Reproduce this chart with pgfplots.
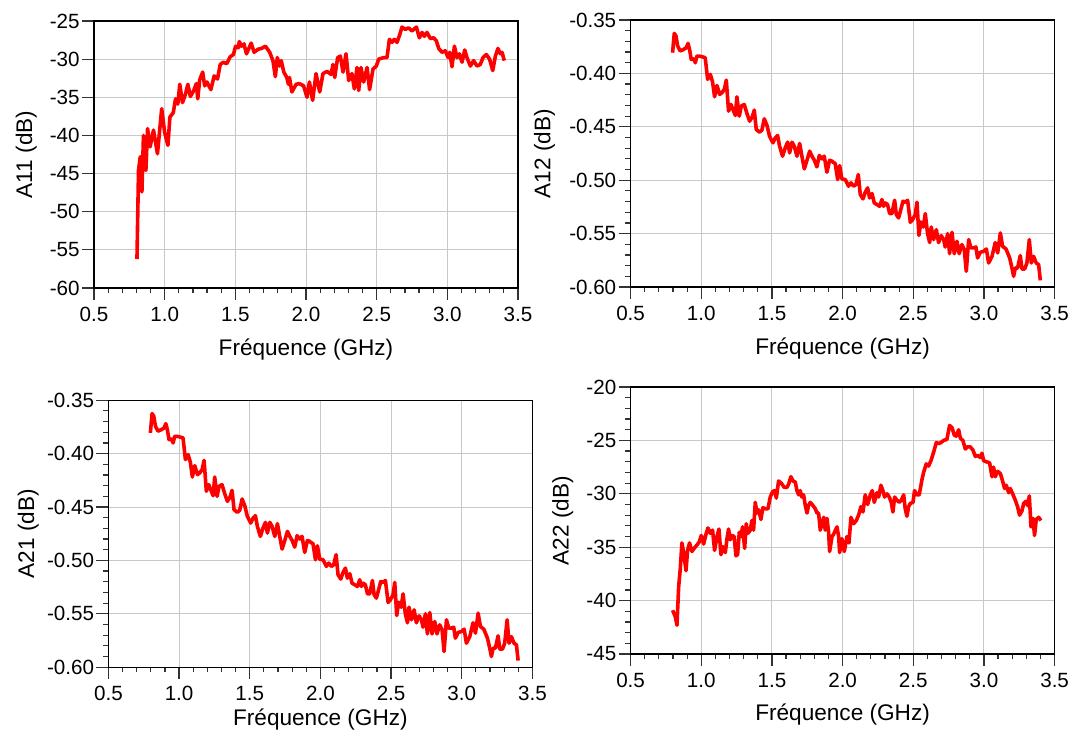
\documentclass[border=0pt]{standalone}
\usepackage{pgfplots}
\pgfplotsset{compat=1.18}
\usepackage{pgfplotstable}
\usepackage{fontspec}
\setmainfont{Liberation Sans}

\pgfplotstableread{
f v
0.804 -56.2
0.815 -44.6
0.827 -42.8
0.839 -47.4
0.850 -40.0
0.867 -44.6
0.879 -39.1
0.897 -41.5
0.921 -39.3
0.949 -42.4
0.979 -36.5
1.000 -39.6
1.023 -41.3
1.037 -37.6
1.061 -37.0
1.077 -35.2
1.093 -35.9
1.107 -33.3
1.126 -35.7
1.147 -34.6
1.164 -33.3
1.182 -34.9
1.206 -34.1
1.224 -33.2
1.234 -35.2
1.248 -32.7
1.269 -31.7
1.283 -33.5
1.299 -33.0
1.327 -34.0
1.350 -32.2
1.374 -32.6
1.393 -30.7
1.416 -30.4
1.439 -30.6
1.463 -29.7
1.486 -29.4
1.502 -28.3
1.521 -28.5
1.528 -27.7
1.544 -28.3
1.561 -28.0
1.579 -29.3
1.612 -27.9
1.633 -29.1
1.661 -28.7
1.685 -28.6
1.713 -28.3
1.743 -29.1
1.766 -30.2
1.783 -32.3
1.797 -29.8
1.813 -30.9
1.825 -30.2
1.843 -31.7
1.864 -32.4
1.876 -33.3
1.883 -32.4
1.900 -34.3
1.930 -33.3
1.953 -33.2
1.983 -33.5
2.007 -35.0
2.024 -33.0
2.047 -35.4
2.071 -31.9
2.097 -34.3
2.120 -31.9
2.149 -31.6
2.177 -32.0
2.191 -30.7
2.203 -32.4
2.224 -29.8
2.243 -29.6
2.262 -31.7
2.283 -29.3
2.302 -32.8
2.325 -31.9
2.342 -33.9
2.361 -31.1
2.373 -34.1
2.389 -31.1
2.408 -33.0
2.432 -31.1
2.450 -34.0
2.474 -31.3
2.498 -30.9
2.514 -30.0
2.550 -29.8
2.573 -29.8
2.590 -27.4
2.608 -27.8
2.625 -27.4
2.644 -27.8
2.663 -26.8
2.679 -25.8
2.703 -26.1
2.726 -25.9
2.750 -26.3
2.781 -25.8
2.802 -27.2
2.821 -26.5
2.837 -27.0
2.856 -26.5
2.880 -27.3
2.903 -27.2
2.922 -27.6
2.939 -28.6
2.962 -29.1
2.986 -28.9
3.005 -29.8
3.017 -29.1
3.033 -31.0
3.050 -28.3
3.068 -29.8
3.085 -29.3
3.104 -30.4
3.123 -28.8
3.139 -29.8
3.163 -30.9
3.186 -30.2
3.210 -30.9
3.233 -30.7
3.252 -29.8
3.276 -29.4
3.299 -30.0
3.321 -31.5
3.340 -29.6
3.358 -28.6
3.375 -29.3
3.387 -29.1
3.403 -30.2
}\tableA

\pgfplotstableread{
f v
0.797 -0.3806
0.809 -0.3625
0.821 -0.3650
0.833 -0.3744
0.851 -0.3790
0.875 -0.3775
0.894 -0.3760
0.906 -0.3719
0.917 -0.3775
0.929 -0.3869
0.946 -0.3863
0.958 -0.3900
0.969 -0.3838
0.986 -0.3838
1.005 -0.3844
1.028 -0.3853
1.045 -0.4056
1.064 -0.4009
1.080 -0.4081
1.094 -0.4219
1.111 -0.4113
1.130 -0.4197
1.146 -0.4181
1.163 -0.4150
1.177 -0.4063
1.193 -0.4353
1.210 -0.4291
1.224 -0.4338
1.241 -0.4394
1.252 -0.4219
1.269 -0.4400
1.283 -0.4306
1.304 -0.4291
1.323 -0.4375
1.342 -0.4447
1.361 -0.4406
1.375 -0.4344
1.389 -0.4525
1.413 -0.4550
1.429 -0.4531
1.446 -0.4425
1.465 -0.4488
1.483 -0.4588
1.507 -0.4650
1.524 -0.4603
1.540 -0.4581
1.554 -0.4681
1.575 -0.4775
1.594 -0.4697
1.611 -0.4644
1.625 -0.4744
1.642 -0.4644
1.658 -0.4681
1.677 -0.4775
1.696 -0.4656
1.712 -0.4775
1.729 -0.4894
1.748 -0.4813
1.767 -0.4728
1.783 -0.4775
1.800 -0.4813
1.818 -0.4875
1.835 -0.4769
1.854 -0.4800
1.870 -0.4775
1.889 -0.4925
1.908 -0.4813
1.925 -0.4822
1.932 -0.4831
1.948 -0.4844
1.965 -0.4994
1.979 -0.4863
1.995 -0.4988
2.019 -0.4994
2.042 -0.5056
2.059 -0.5025
2.078 -0.5056
2.094 -0.5041
2.111 -0.4947
2.125 -0.5134
2.144 -0.5175
2.160 -0.5113
2.177 -0.5072
2.191 -0.5166
2.208 -0.5125
2.224 -0.5213
2.243 -0.5228
2.262 -0.5244
2.278 -0.5181
2.290 -0.5244
2.302 -0.5213
2.318 -0.5228
2.333 -0.5313
2.349 -0.5313
2.368 -0.5188
2.380 -0.5322
2.396 -0.5353
2.413 -0.5269
2.427 -0.5197
2.443 -0.5206
2.460 -0.5188
2.479 -0.5394
2.495 -0.5369
2.514 -0.5322
2.526 -0.5206
2.540 -0.5516
2.554 -0.5391
2.571 -0.5438
2.585 -0.5313
2.601 -0.5500
2.616 -0.5584
2.627 -0.5438
2.644 -0.5556
2.663 -0.5463
2.679 -0.5584
2.698 -0.5519
2.715 -0.5556
2.726 -0.5625
2.743 -0.5500
2.757 -0.5688
2.774 -0.5488
2.790 -0.5688
2.809 -0.5572
2.825 -0.5688
2.844 -0.5603
2.861 -0.5650
2.875 -0.5853
2.892 -0.5556
2.908 -0.5634
2.927 -0.5634
2.943 -0.5625
2.955 -0.5728
2.974 -0.5675
2.998 -0.5666
3.017 -0.5644
3.033 -0.5775
3.057 -0.5713
3.080 -0.5584
3.097 -0.5681
3.116 -0.5494
3.132 -0.5619
3.156 -0.5644
3.182 -0.5728
3.198 -0.5822
3.210 -0.5900
3.222 -0.5822
3.238 -0.5822
3.257 -0.5706
3.269 -0.5831
3.288 -0.5831
3.304 -0.5775
3.321 -0.5556
3.335 -0.5775
3.351 -0.5713
3.370 -0.5775
3.387 -0.5791
3.399 -0.5938
}\tableB

\pgfplotstableread{
f v
0.797 -40.9
0.816 -41.5
0.828 -42.3
0.840 -38.7
0.851 -37.1
0.863 -34.6
0.875 -35.5
0.892 -37.2
0.903 -35.3
0.917 -34.6
0.934 -35.4
0.950 -35.1
0.969 -34.8
0.986 -34.5
1.000 -33.9
1.017 -34.7
1.033 -33.8
1.047 -33.2
1.064 -33.7
1.080 -33.4
1.094 -35.3
1.111 -34.0
1.125 -33.3
1.139 -35.7
1.153 -34.95
1.170 -35.5
1.182 -34.2
1.193 -33.3
1.205 -34.3
1.217 -33.9
1.233 -34.0
1.245 -35.8
1.257 -35.7
1.269 -33.6
1.281 -34.0
1.292 -33.1
1.307 -35.1
1.318 -32.8
1.330 -33.7
1.347 -33.4
1.358 -32.5
1.370 -33.4
1.382 -30.8
1.394 -31.8
1.406 -31.5
1.422 -32.4
1.436 -31.3
1.453 -31.4
1.472 -31.4
1.488 -30.3
1.505 -29.8
1.519 -29.7
1.531 -30.4
1.547 -28.8
1.566 -29.0
1.587 -29.4
1.606 -29.4
1.618 -29.1
1.634 -28.4
1.649 -28.8
1.665 -28.9
1.677 -29.7
1.689 -30.1
1.700 -29.7
1.712 -30.3
1.724 -30.1
1.736 -31.1
1.748 -31.8
1.759 -31.1
1.771 -30.8
1.790 -31.1
1.807 -31.4
1.818 -31.8
1.830 -31.8
1.842 -33.4
1.854 -32.8
1.866 -32.2
1.877 -33.4
1.889 -32.3
1.901 -33.6
1.908 -35.4
1.925 -34.0
1.936 -33.8
1.960 -33.1
1.972 -34.0
1.979 -35.5
1.995 -34.2
2.012 -35.4
2.031 -34.0
2.045 -34.6
2.059 -32.2
2.078 -32.8
2.097 -32.5
2.113 -32.0
2.130 -31.2
2.144 -31.7
2.160 -30.1
2.177 -31.0
2.196 -30.1
2.210 -29.7
2.224 -30.8
2.243 -29.9
2.255 -30.3
2.271 -29.2
2.285 -29.7
2.297 -30.3
2.314 -30.0
2.330 -30.3
2.344 -30.8
2.356 -31.7
2.368 -30.3
2.384 -30.6
2.401 -30.8
2.415 -30.6
2.432 -30.1
2.443 -31.4
2.455 -32.1
2.467 -31.2
2.479 -30.9
2.498 -30.8
2.509 -29.7
2.526 -30.1
2.542 -30.1
2.561 -28.7
2.573 -28.0
2.592 -27.2
2.608 -27.4
2.625 -26.9
2.644 -26.1
2.663 -25.2
2.679 -25.3
2.696 -25.2
2.715 -25.0
2.738 -24.9
2.757 -23.6
2.774 -23.8
2.790 -24.5
2.804 -24.6
2.821 -24.0
2.833 -24.8
2.851 -25.0
2.868 -25.8
2.884 -25.6
2.903 -25.6
2.922 -25.9
2.939 -26.5
2.955 -26.4
2.974 -26.6
2.986 -26.2
2.998 -26.9
3.017 -27.0
3.040 -27.1
3.057 -28.4
3.068 -27.5
3.080 -28.4
3.097 -27.9
3.116 -28.1
3.132 -28.8
3.146 -29.5
3.158 -29.2
3.175 -29.9
3.186 -29.5
3.203 -30.0
3.222 -30.6
3.238 -31.2
3.252 -32.0
3.269 -31.6
3.281 -30.9
3.297 -30.7
3.309 -31.1
3.321 -30.2
3.333 -33.1
3.347 -32.3
3.358 -33.9
3.370 -32.4
3.387 -32.2
3.403 -32.5
}\tableD

\definecolor{gridgray}{RGB}{200,200,200}

\pgfplotsset{
  panel/.style={
    scale only axis,
    width=212pt, height=133.5pt,
    xmin=0.5, xmax=3.5,
    xtick={0.5,1.0,1.5,2.0,2.5,3.0,3.5},
    minor x tick num=4,
    tick pos=left,
    tick align=outside,
    major tick length=6pt,
    minor tick length=2.6pt,
    every tick/.style={black!80, line width=0.6pt},
    grid=major,
    major grid style={draw=gridgray, line width=0.5pt},
    axis line style={black, line width=0.7pt},
    /pgf/number format/assume math mode=true,
    tick label style={font=\fontsize{10.3}{12}\selectfont},
    xticklabel style={/pgf/number format/.cd, fixed, fixed zerofill, precision=1},
    yticklabel style={inner xsep=1pt},
    label style={font=\fontsize{11.3}{13}\selectfont},
    xlabel={Fréquence (GHz)},
  },
  curve/.style={color=red, line width=1.8pt, line join=round, no marks},
}

\begin{document}
\begin{tikzpicture}
\path[use as bounding box] (0,0) rectangle (537pt,370pt);

% A11
\begin{axis}[panel, at={(47pt,226pt)}, anchor=south west,
  ymin=-60, ymax=-25, ytick={-60,-55,...,-25},
  xlabel style={at={(axis description cs:0.5,-0.232)}, anchor=center},
  ylabel={A11 (dB)},
  ylabel style={at={(axis description cs:-0.160,0.5)}, anchor=center},
]
\addplot[curve] table[x=f, y=v] {\tableA};
\end{axis}

% A12
\begin{axis}[panel, at={(315.3pt,226.5pt)}, anchor=south west,
  ymin=-0.60, ymax=-0.35, ytick={-0.60,-0.55,-0.50,-0.45,-0.40,-0.35},
  minor y tick num=4,
  yticklabel style={/pgf/number format/.cd, fixed, fixed zerofill, precision=2},
  xlabel style={at={(axis description cs:0.5,-0.232)}, anchor=center},
  ylabel={A12 (dB)},
  ylabel style={at={(axis description cs:-0.203,0.5)}, anchor=center},
]
\addplot[curve] table[x=f, y=v] {\tableB};
\end{axis}

% A21
\begin{axis}[panel, at={(54.2pt,36.4pt)}, anchor=south west,
  ymin=-0.60, ymax=-0.35, ytick={-0.60,-0.55,-0.50,-0.45,-0.40,-0.35},
  minor y tick num=4,
  yticklabel style={/pgf/number format/.cd, fixed, fixed zerofill, precision=2},
  xlabel style={at={(axis description cs:0.5,-0.195)}, anchor=center},
  ylabel={A21 (dB)},
  ylabel style={at={(axis description cs:-0.189,0.5)}, anchor=center},
]
\addplot[curve] table[x=f, y=v] {\tableB};
\end{axis}

% A22
\begin{axis}[panel, at={(315.3pt,43pt)}, anchor=south west,
  ymin=-45, ymax=-20, ytick={-45,-40,...,-20},
  minor y tick num=4,
  xlabel style={at={(axis description cs:0.5,-0.225)}, anchor=center},
  ylabel={A22 (dB)},
  ylabel style={at={(axis description cs:-0.160,0.5)}, anchor=center},
]
\addplot[curve] table[x=f, y=v] {\tableD};
\end{axis}
\end{tikzpicture}
\end{document}
